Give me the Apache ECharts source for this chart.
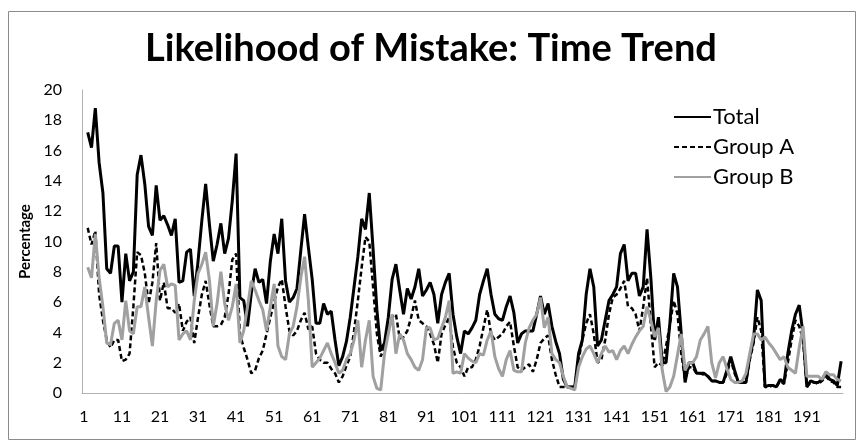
<!DOCTYPE html>
<html>
<head>
<meta charset="utf-8">
<script src="https://cdn.jsdelivr.net/npm/echarts@6/dist/echarts.min.js"></script>
<style>
  html, body { margin: 0; padding: 0; background: #fff; }
  #chart { width: 862px; height: 442px; }
</style>
</head>
<body>
<div id="chart"></div>
<script>
// weeks 1..200, first week has no value
const weeks = [];
for (let i = 1; i <= 200; i++) weeks.push(String(i));

const total = [null, 17.2, 16.2, 18.8, 15.2, 13.2, 8.2, 7.9, 9.7, 9.7,
    6.0, 9.2, 7.4, 8.0, 14.4, 15.7, 13.8, 11.0, 10.4, 13.7,
    11.4, 11.7, 11.1, 10.4, 11.5, 7.3, 7.4, 9.3, 9.5, 6.4,
    8.7, 11.4, 13.8, 11.1, 8.7, 9.8, 11.2, 9.2, 10.2, 12.7,
    15.8, 6.3, 6.1, 4.4, 6.6, 8.2, 7.3, 7.5, 5.9, 8.7,
    10.5, 9.2, 11.5, 7.4, 6.0, 6.3, 6.9, 9.4, 11.8, 9.6,
    7.5, 4.6, 4.6, 5.9, 5.2, 5.4, 3.5, 1.8, 2.4, 3.4,
    5.0, 7.0, 9.0, 11.5, 10.8, 13.2, 9.5, 5.5, 2.8, 3.3,
    5.0, 7.5, 8.5, 6.8, 5.2, 6.9, 6.2, 7.0, 8.2, 6.4,
    6.8, 7.3, 6.5, 4.6, 6.5, 7.3, 7.9, 5.2, 3.7, 2.6,
    4.1, 3.9, 4.3, 4.8, 6.5, 7.4, 8.2, 6.5, 5.2, 4.9,
    4.8, 5.7, 6.4, 5.3, 3.3, 3.9, 4.1, 4.1, 4.1, 5.2,
    6.4, 5.2, 5.9, 4.4, 3.4, 2.6, 0.9, 0.4, 0.4, 0.4,
    2.6, 3.5, 6.5, 8.2, 7.0, 3.1, 3.5, 4.8, 6.1, 6.5,
    7.0, 9.2, 9.8, 7.4, 7.9, 7.9, 6.4, 7.0, 10.8, 7.6,
    3.5, 5.0, 2.0, 2.0, 4.6, 7.9, 7.0, 3.9, 0.7, 2.0,
    2.0, 1.3, 1.3, 1.3, 1.1, 0.8, 0.8, 0.7, 0.7, 1.5,
    2.4, 1.5, 0.7, 0.7, 0.7, 2.4, 3.5, 6.8, 6.1, 0.4,
    0.5, 0.5, 0.4, 0.9, 0.7, 2.6, 4.1, 5.2, 5.8, 3.9,
    0.4, 0.8, 0.7, 0.7, 0.9, 1.3, 0.9, 0.8, 0.5, 2.1];

const groupA = [null, 10.9, 9.8, 10.7, 6.5, 4.8, 3.5, 3.0, 3.5, 3.5,
    2.1, 2.2, 2.6, 5.7, 9.3, 9.1, 7.9, 5.9, 7.3, 9.9,
    6.1, 7.3, 5.6, 5.6, 5.3, 5.9, 4.1, 4.7, 5.0, 3.3,
    5.0, 6.5, 7.4, 5.8, 4.4, 4.4, 4.5, 5.0, 6.5, 8.8,
    9.2, 3.9, 3.0, 2.2, 1.3, 1.5, 2.3, 2.8, 3.9, 5.0,
    6.0, 7.0, 7.5, 5.7, 4.1, 3.8, 4.1, 4.8, 5.3, 4.2,
    4.4, 2.6, 2.2, 2.0, 2.0, 1.6, 1.3, 0.7, 1.1, 1.8,
    2.4, 4.1, 6.1, 8.3, 10.3, 10.0, 7.0, 3.9, 2.4, 3.1,
    4.3, 5.0, 5.2, 3.6, 3.7, 4.1, 5.0, 6.1, 4.8, 4.6,
    4.4, 3.9, 3.2, 2.0, 3.9, 4.5, 5.0, 3.0, 2.0, 1.7,
    1.1, 1.7, 1.7, 2.2, 3.1, 4.3, 5.5, 3.9, 3.5, 3.7,
    3.9, 4.4, 4.7, 3.1, 1.7, 1.5, 1.7, 1.9, 1.4, 2.2,
    3.3, 3.6, 3.8, 2.2, 1.2, 0.4, 0.4, 0.4, 0.4, 0.4,
    2.2, 3.5, 4.6, 5.2, 3.9, 2.0, 2.2, 3.5, 5.2, 6.3,
    6.5, 6.9, 7.4, 5.7, 5.6, 5.2, 4.1, 5.7, 7.6, 4.5,
    1.7, 2.0, 1.8, 3.1, 4.5, 6.1, 5.2, 2.6, 0.9, 1.7,
    1.7, 1.3, 1.3, 1.2, 1.1, 0.8, 0.8, 0.7, 0.7, 1.3,
    2.2, 1.3, 0.7, 0.7, 0.7, 2.2, 3.3, 5.0, 4.1, 0.4,
    0.4, 0.5, 0.4, 0.8, 0.6, 2.0, 3.5, 4.8, 4.4, 3.5,
    0.4, 0.7, 0.7, 0.6, 0.8, 1.1, 0.8, 0.7, 0.4, 0.4];

const groupB = [null, 8.3, 7.6, 10.5, 7.6, 5.7, 3.3, 3.2, 4.6, 4.8,
    3.5, 6.1, 4.1, 3.9, 5.7, 5.7, 7.0, 5.0, 3.1, 6.1,
    8.1, 8.5, 7.0, 7.2, 7.1, 3.5, 3.9, 4.1, 3.5, 6.1,
    7.9, 8.5, 9.3, 7.4, 4.4, 5.9, 8.0, 5.9, 4.8, 5.7,
    7.2, 3.3, 4.1, 5.7, 7.4, 6.8, 6.1, 5.5, 4.1, 5.7,
    7.2, 3.1, 2.4, 2.2, 3.9, 4.4, 5.7, 7.6, 9.0, 6.1,
    1.7, 2.0, 2.3, 2.8, 3.3, 2.6, 2.0, 1.3, 1.5, 2.2,
    2.6, 3.5, 4.8, 1.7, 3.5, 4.8, 1.1, 0.3, 0.2, 2.6,
    3.9, 5.2, 2.6, 3.9, 3.5, 2.6, 2.2, 1.7, 1.5, 2.2,
    4.3, 4.3, 3.5, 3.6, 4.3, 5.0, 6.1, 1.3, 1.4, 1.3,
    2.6, 2.3, 2.1, 2.0, 2.6, 2.5, 3.5, 4.1, 2.4, 1.6,
    1.1, 2.2, 2.8, 1.5, 1.4, 1.4, 3.3, 4.3, 4.8, 5.2,
    6.3, 4.3, 5.0, 2.6, 2.2, 2.0, 1.1, 0.4, 0.3, 0.2,
    1.7, 2.4, 2.9, 3.1, 2.6, 2.0, 2.6, 3.1, 2.7, 2.8,
    2.2, 2.8, 3.1, 2.6, 3.2, 3.7, 4.1, 4.4, 5.7, 4.8,
    3.7, 4.3, 1.5, 0.1, 0.4, 1.1, 2.5, 3.9, 1.5, 2.0,
    2.0, 2.4, 3.5, 3.9, 4.4, 2.0, 1.0, 2.0, 2.4, 1.6,
    0.9, 0.7, 0.7, 0.8, 1.3, 2.6, 3.9, 3.9, 3.5, 3.7,
    3.3, 3.0, 2.6, 2.2, 2.4, 1.7, 1.5, 1.3, 3.0, 4.4,
    1.1, 1.1, 1.1, 1.1, 0.9, 1.4, 1.2, 1.2, 0.9, 0.8];

const font = 'Lato, "Open Sans", sans-serif';
const chart = echarts.init(document.getElementById('chart'), null, { renderer: 'canvas' });

function makeSeries(name, data, color, width, type) {
    return {
        name: name,
        type: 'line',
        data: data,
        symbol: 'none',
        smooth: false,
        animation: false,
        lineStyle: { color: color, width: width, type: type },
        itemStyle: { color: color }
    };
}

chart.setOption({
    backgroundColor: '#fff',
    animation: false,
    title: {
        text: 'Likelihood of Mistake: Time Trend',
        left: 'center',
        top: 25,
        textStyle: { fontFamily: font, fontWeight: 'bold', fontSize: 38, color: '#000' }
    },
    legend: {
        orient: 'vertical',
        left: 668,
        top: 101,
        itemWidth: 37,
        itemHeight: 14,
        itemGap: 8,
        // line only, no marker on the legend icons
        itemStyle: { opacity: 0 },
        textStyle: { fontFamily: font, fontSize: 22, color: '#000', padding: [0, 0, 0, -3] },
        data: ['Total', 'Group A', 'Group B']
    },
    grid: { left: 82, right: 19, top: 90, bottom: 49, containLabel: false },
    xAxis: {
        type: 'category',
        data: weeks,
        boundaryGap: true,
        axisLine: { lineStyle: { color: '#b3b3b3', width: 1 } },
        axisTick: { show: false },
        axisLabel: { interval: 9, fontFamily: font, fontSize: 16, color: '#000', margin: 16 }
    },
    yAxis: {
        type: 'value',
        min: 0,
        max: 20,
        interval: 2,
        name: 'Percentage',
        nameLocation: 'middle',
        nameGap: 48,
        nameTextStyle: { fontFamily: font, fontWeight: 'bold', fontSize: 15, color: '#000' },
        axisLine: { show: true, lineStyle: { color: '#b3b3b3', width: 1 } },
        axisTick: { show: false },
        splitLine: { show: false },
        axisLabel: { fontFamily: font, fontSize: 16, color: '#000', margin: 20 }
    },
    graphic: [{
        type: 'rect',
        shape: { x: 8.5, y: 11.5, width: 847, height: 428 },
        style: { fill: null, stroke: '#8c8c8c', lineWidth: 1 },
        silent: true
    }],
    series: [
        makeSeries('Total', total, '#000', 3, 'solid'),
        makeSeries('Group A', groupA, '#000', 2.5, [5, 3]),
        makeSeries('Group B', groupB, '#a0a0a0', 3, 'solid')
    ]
});
</script>
</body>
</html>
